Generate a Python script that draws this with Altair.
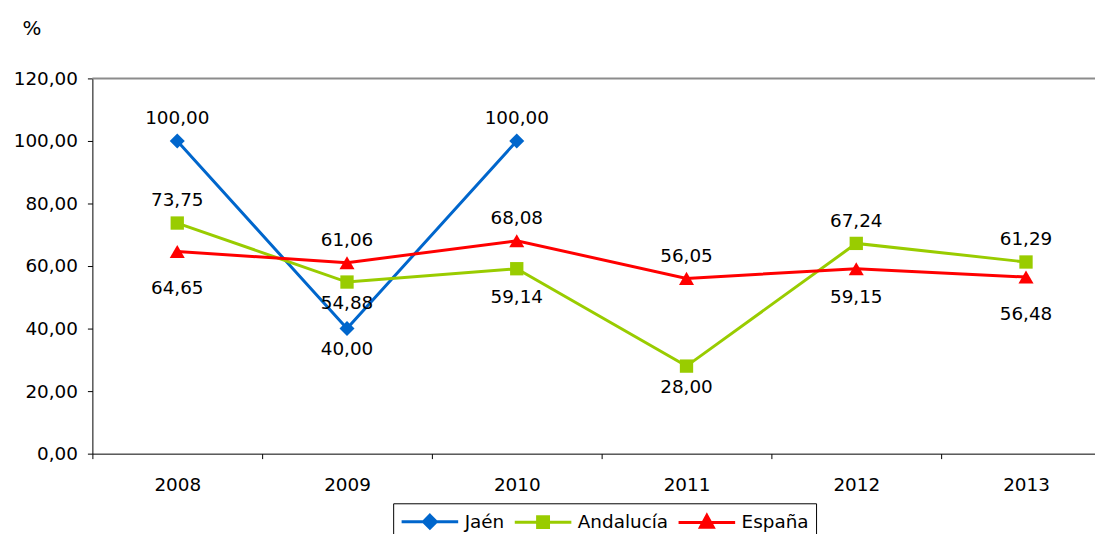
import altair as alt
import pandas as pd

years = [2008, 2009, 2010, 2011, 2012, 2013]
series = ["Jaén", "Andalucía", "España"]
colors = ["#0066CC", "#99CC00", "#FF0000"]
shapes = ["diamond", "square", "triangle-up"]
# legend symbols: a 58px line with the series marker in its middle (1 unit = 10px)
legend_paths = [
    "M-1,0L4.7,0M1.85,-0.65L2.5,0L1.85,0.65L1.2,0Z",
    "M-1,0L4.7,0M1.3,-0.55L2.4,-0.55L2.4,0.55L1.3,0.55Z",
    "M-1,0L4.7,0M1.85,-0.7L2.5,0.5L1.2,0.5Z",
]
jaen = [100.00, 40.00, 100.00, None, None, None]
andalucia = [73.75, 54.88, 59.14, 28.00, 67.24, 61.29]
espana = [64.65, 61.06, 68.08, 56.05, 59.15, 56.48]
jaen_pos = ["above", "near", "above", None, None, None]
andalucia_pos = ["above", "near", "below", "near", "above", "above"]
espana_pos = ["low", "above", "above", "above", "below", "low"]
y_ticks = [0, 20, 40, 60, 80, 100, 120]

rows = []
for s, vals, poss in [(series[0], jaen, jaen_pos), (series[1], andalucia, andalucia_pos), (series[2], espana, espana_pos)]:
    for y, v, p in zip(years, vals, poss):
        if v is None:
            continue
        rows.append({"year": str(y), "series": s, "value": v, "pos": p,
                     "label": f"{v:.2f}".replace(".", ",")})
df = pd.DataFrame(rows)

FONT = "DejaVu Sans"
FS = 18.5
year_dom = [str(y) for y in years]

x_enc = alt.X("year:O", sort=year_dom,
              scale=alt.Scale(type="band", domain=year_dom, range=[0, 1026], paddingInner=0, paddingOuter=0),
              axis=alt.Axis(title=None, labelAngle=0, tickBand="extent", tickSize=5, labelPadding=17,
                            labelFontSize=FS, labelFont=FONT, labelColor="black", grid=False,
                            domainColor="black", tickColor="black"))
y_enc = alt.Y("value:Q", scale=alt.Scale(domain=[0, 120], nice=False),
              axis=alt.Axis(values=y_ticks, title="%", titleAngle=0, titleX=-71, titleY=-50,
                            titleAlign="left", titleBaseline="middle", titleFontSize=20, titleFont=FONT,
                            titleColor="black", titleFontWeight="normal", labelFontSize=FS, labelFont=FONT,
                            labelColor="black", tickSize=5, labelPadding=10, domainColor="black",
                            tickColor="black", grid=False,
                            labelExpr="replace(format(datum.value, '.2f'), '.', ',')"))

base = alt.Chart(df)

top_rule = alt.Chart(pd.DataFrame({"value": [y_ticks[-1]]})).mark_rule(color="#8c8c8c", strokeWidth=2).encode(
    y=y_enc)

series_layers = []
for s, c, sh in zip(series, colors, shapes):
    size = 180 if sh == "square" else 230
    sub = base.transform_filter(alt.datum.series == s)
    series_layers.append(sub.mark_line(strokeWidth=3, color=c).encode(x=x_enc, y=y_enc))
    series_layers.append(sub.mark_point(shape=sh, filled=True, color=c, size=size, opacity=1).encode(x=x_enc, y=y_enc))

leg = alt.Legend(title=None, orient="none", legendX=303, legendY=428, direction="horizontal", columns=3,
                 strokeColor="black", padding=7, labelFontSize=FS, labelFont=FONT, labelColor="black",
                 symbolSize=400, symbolStrokeWidth=3, symbolOpacity=1, columnPadding=4, labelOffset=42,
                 fillColor="white", rowPadding=0)

# legend carrier: draws nothing (empty after filter), only provides the legend
carrier = base.transform_filter("false").mark_point(filled=False, size=400, strokeWidth=3).encode(
    x=x_enc, y=y_enc,
    stroke=alt.Stroke("series:N", scale=alt.Scale(domain=series, range=colors), legend=leg),
    fill=alt.Fill("series:N", scale=alt.Scale(domain=series, range=colors), legend=leg),
    shape=alt.Shape("series:N", scale=alt.Scale(domain=series, range=legend_paths), legend=leg),
)

text_kw = dict(fontSize=FS, font=FONT, color="black", baseline="middle")
label_layers = []
for pos, dy in [("above", -23), ("near", 21), ("below", 29), ("low", 37)]:
    label_layers.append(base.transform_filter(alt.datum.pos == pos).mark_text(dy=dy, **text_kw).encode(
        x=x_enc, y=y_enc, text="label:N"))

chart = alt.layer(top_rule, *series_layers, carrier, *label_layers).properties(
    width=1010, height=378,
    background="white",
    autosize=alt.AutoSizeParams(type="none"),
    padding={"left": 85, "top": 69, "right": 0, "bottom": 79},
).configure_view(stroke=None)

chart.save("out.html", embed_options={"renderer": "svg", "actions": False})
